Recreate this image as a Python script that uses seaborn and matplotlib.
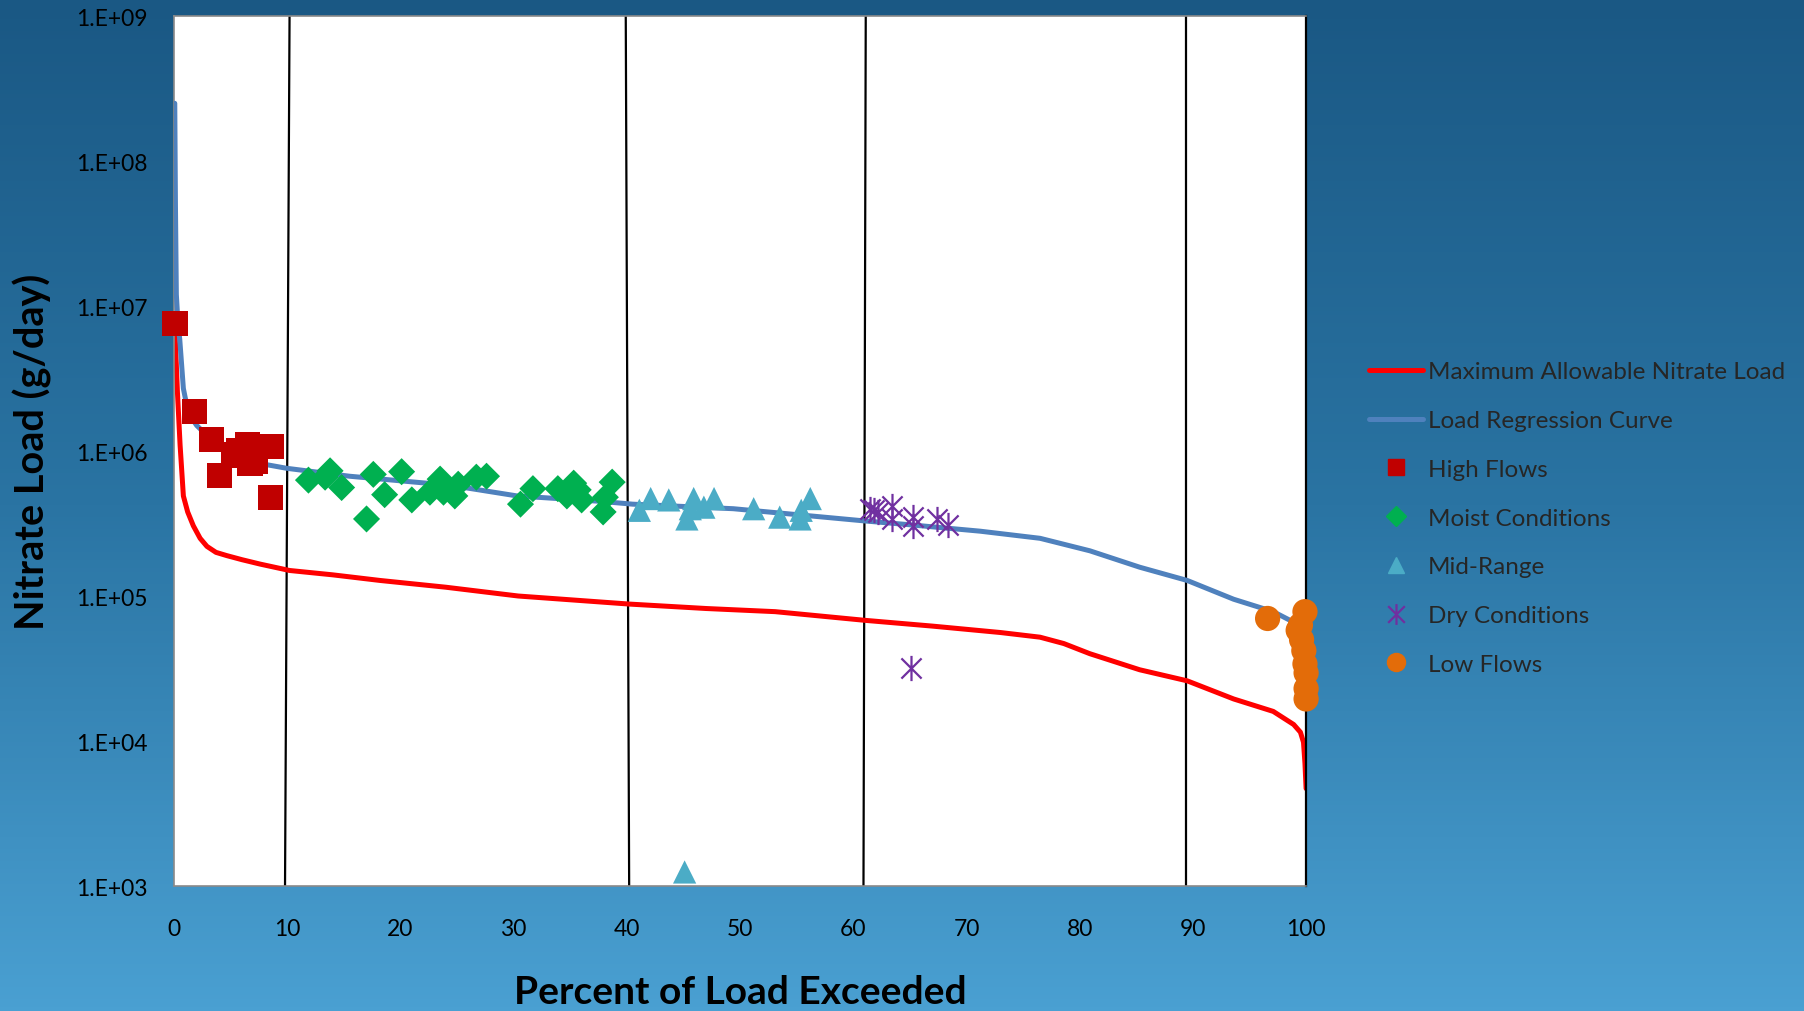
import numpy as np
import matplotlib
matplotlib.use("Agg")
import matplotlib.pyplot as plt
from matplotlib.colors import LinearSegmentedColormap
from matplotlib.lines import Line2D
from matplotlib.path import Path
from matplotlib.ticker import FixedLocator, FuncFormatter
import seaborn as sns

# load duration curves (percent of load exceeded, g/day)
regression_pct = [0.06, 0.12, 0.2, 0.35, 0.5, 0.82, 1.0, 1.41, 2.0, 2.6, 3.77, 5.24, 7.6, 9.95,
                  15.5, 24.4, 30.3, 37.6, 40.5, 49.4, 60.9, 65.0, 71.2, 76.5, 80.9, 85.3, 89.5,
                  93.6, 97.1, 98.9, 99.3]
regression_load = [2.5e8, 5.0e7, 1.2e7, 7.5e6, 5.9e6, 2.7e6, 2.3e6, 1.75e6, 1.5e6, 1.35e6, 1.1e6,
                   9.3e5, 8.2e5, 7.6e5, 6.7e5, 5.8e5, 4.9e5, 4.5e5, 4.3e5, 4.0e5, 3.3e5, 3.1e5,
                   2.8e5, 2.5e5, 2.05e5, 1.58e5, 1.28e5, 9.5e4, 7.8e4, 6.6e4, 6.2e4]

allowable_pct = [0.05, 0.3, 0.53, 0.82, 1.2, 1.7, 2.3, 2.9, 3.7, 4.65, 6.0, 7.6, 10.2, 14.0, 18.2,
                 24.0, 30.4, 40.2, 47.0, 53.1, 61.0, 67.0, 73.0, 76.5, 78.6, 80.9, 85.3, 89.5,
                 93.6, 97.1, 98.9, 99.5, 99.77, 99.9, 100.0]
allowable_load = [7.6e6, 2.5e6, 1.1e6, 4.9e5, 3.8e5, 3.05e5, 2.5e5, 2.2e5, 2.0e5, 1.9e5, 1.78e5,
                  1.66e5, 1.5e5, 1.4e5, 1.28e5, 1.15e5, 1.0e5, 8.8e4, 8.2e4, 7.8e4, 6.8e4, 6.2e4,
                  5.6e4, 5.2e4, 4.7e4, 4.0e4, 3.1e4, 2.6e4, 1.95e4, 1.6e4, 1.3e4, 1.15e4, 9.8e3,
                  7.0e3, 4.7e3]

# observed loads by flow zone
high_pct = [0.09, 1.77, 3.33, 3.98, 5.24, 5.7, 6.1, 6.5, 6.7, 7.2, 8.6, 8.5]
high_load = [7.6e6, 1.87e6, 1.2e6, 6.8e5, 9.5e5, 1.0e6, 9.3e5, 1.1e6, 8.2e5, 8.5e5, 1.07e6, 4.8e5]

moist_pct = [11.87, 13.78, 13.34, 14.8, 17.6, 17.0, 20.1, 18.6, 21.0, 23.5, 22.6, 23.8, 24.8,
             25.1, 26.7, 27.6, 30.6, 31.7, 33.9, 35.3, 34.7, 36.0, 38.7, 38.1, 37.9, 35.7]
moist_load = [6.3e5, 7.3e5, 6.6e5, 5.6e5, 6.9e5, 3.4e5, 7.2e5, 5.0e5, 4.6e5, 6.4e5, 5.2e5, 5.2e5,
              4.9e5, 5.9e5, 6.6e5, 6.7e5, 4.3e5, 5.5e5, 5.5e5, 6.0e5, 4.9e5, 4.6e5, 6.1e5,
              4.8e5, 3.8e5, 5.4e5]

mid_pct = [41.1, 42.1, 43.7, 45.3, 45.9, 45.6, 46.8, 47.7, 51.2, 53.5, 55.4, 55.3, 56.2, 45.1]
mid_load = [3.9e5, 4.7e5, 4.6e5, 3.4e5, 4.7e5, 4.0e5, 4.1e5, 4.7e5, 4.0e5, 3.5e5, 3.9e5, 3.4e5,
            4.7e5, 1.25e3]

dry_pct = [61.5, 61.8, 62.2, 63.4, 63.4, 65.3, 65.3, 67.4, 68.4, 65.1]
dry_load = [4.0e5, 3.9e5, 3.8e5, 4.2e5, 3.4e5, 3.5e5, 3.05e5, 3.4e5, 3.1e5, 3.2e4]

low_pct = [96.6, 99.9, 99.3, 99.5, 99.6, 99.8, 99.9, 100.0, 100.0, 100.0]
low_load = [7.0e4, 7.8e4, 5.8e4, 6.3e4, 5.0e4, 4.2e4, 3.4e4, 2.95e4, 2.3e4, 1.95e4]

# flow zone boundaries (hand drawn, slightly tilted)
zone_top = [10.2, 39.9, 61.1, 89.4]
zone_bottom = [9.8, 40.2, 60.9, 89.4]

x_ticks = [0, 10, 20, 30, 40, 50, 60, 70, 80, 90, 100]
y_ticks = [1e3, 1e4, 1e5, 1e6, 1e7, 1e8, 1e9]

RED = "#ff0000"
BLUE = "#4f81bd"
SQ = "#c00000"
GREEN = "#00b050"
CYAN = "#4bacc6"
PURPLE = "#7030a0"
ORANGE = "#e36c09"

sns.set_style("white")
plt.rcParams["font.family"] = ["Lato", "DejaVu Sans"]

fig = plt.figure(figsize=(18.04, 10.12), dpi=100)

# gradient slide background
bg = fig.add_axes([0, 0, 1, 1], zorder=-10)
grad = np.linspace(0, 1, 256).reshape(-1, 1)
cmap = LinearSegmentedColormap.from_list("bg", ["#1a5884", "#2a74a3", "#4aa0d2"])
bg.imshow(grad, aspect="auto", cmap=cmap, extent=[0, 1, 0, 1])
bg.axis("off")

ax = fig.add_axes([0.0965, 0.1235, 0.6275, 0.8597])
ax.set_facecolor("white")

for xt, xb in zip(zone_top, zone_bottom):
    ax.plot([xt, xb], [1e9, 1e3], color="black", lw=1.6, zorder=1)

sns.lineplot(x=allowable_pct, y=allowable_load, ax=ax, color=RED, lw=3.6,
             sort=False, estimator=None, zorder=2)
sns.lineplot(x=regression_pct, y=regression_load, ax=ax, color=BLUE, lw=3.6,
             sort=False, estimator=None, zorder=3)

star = Path([(-1, -1), (1, 1), (-1, 1), (1, -1), (0, -1.25), (0, 1.25)],
            [Path.MOVETO, Path.LINETO, Path.MOVETO, Path.LINETO, Path.MOVETO, Path.LINETO])

sns.scatterplot(x=high_pct, y=high_load, ax=ax, marker="s", s=330, color=SQ, edgecolor="none",
                zorder=5, clip_on=False)
sns.scatterplot(x=moist_pct, y=moist_load, ax=ax, marker="D", s=190, color=GREEN, edgecolor="none",
                zorder=5, clip_on=False)
sns.scatterplot(x=mid_pct, y=mid_load, ax=ax, marker="^", s=280, color=CYAN, edgecolor="none",
                zorder=5, clip_on=False)
sns.scatterplot(x=dry_pct, y=dry_load, ax=ax, marker=star, s=330, color=PURPLE, edgecolor=PURPLE,
                linewidth=1.6, zorder=5, clip_on=False)
sns.scatterplot(x=low_pct, y=low_load, ax=ax, marker="o", s=330, color=ORANGE, edgecolor="none",
                zorder=5, clip_on=False)

ax.set_yscale("log")
ax.set_xlim(0, 100)
ax.set_ylim(1e3, 1e9)
ax.xaxis.set_major_locator(FixedLocator(x_ticks))
ax.yaxis.set_major_locator(FixedLocator(y_ticks))
ax.yaxis.set_minor_locator(FixedLocator([]))
ax.yaxis.set_major_formatter(FuncFormatter(lambda v, p: f"1.E+{int(round(np.log10(v))):02d}"))
ax.tick_params(axis="both", length=0, labelsize=16.5, colors="black")
ax.tick_params(axis="y", pad=19)
ax.tick_params(axis="x", pad=23)

for side in ["left", "bottom", "top"]:
    ax.spines[side].set_color("#8a8a8a")
    ax.spines[side].set_linewidth(1.2)
ax.spines["right"].set_color("black")
ax.spines["right"].set_linewidth(1.6)

ax.set_xlabel("Percent of Load Exceeded", fontsize=28, fontweight="bold", color="black")
ax.set_ylabel("Nitrate Load (g/day)", fontsize=28.5, fontweight="bold", color="black")
ax.xaxis.set_label_coords(0.5, -0.101)
ax.yaxis.set_label_coords(-0.108, 0.5)

handles = [
    Line2D([], [], color=RED, lw=3.6, label="Maximum Allowable Nitrate Load"),
    Line2D([], [], color=BLUE, lw=3.6, label="Load Regression Curve"),
    Line2D([], [], color=SQ, marker="s", ls="none", ms=12, label="High Flows"),
    Line2D([], [], color=GREEN, marker="D", ls="none", ms=10, label="Moist Conditions"),
    Line2D([], [], color=CYAN, marker="^", ls="none", ms=12, label="Mid-Range"),
    Line2D([], [], color=PURPLE, marker=star, ls="none", ms=15, mew=1.6, label="Dry Conditions"),
    Line2D([], [], color=ORANGE, marker="o", ls="none", ms=13, label="Low Flows"),
]
fig.legend(handles=handles, loc="center left", bbox_to_anchor=(0.747, 0.487), frameon=False,
           fontsize=17.5, handlelength=2.2, handletextpad=0.2, labelspacing=1.14)

fig.savefig("out.png", dpi=100)
